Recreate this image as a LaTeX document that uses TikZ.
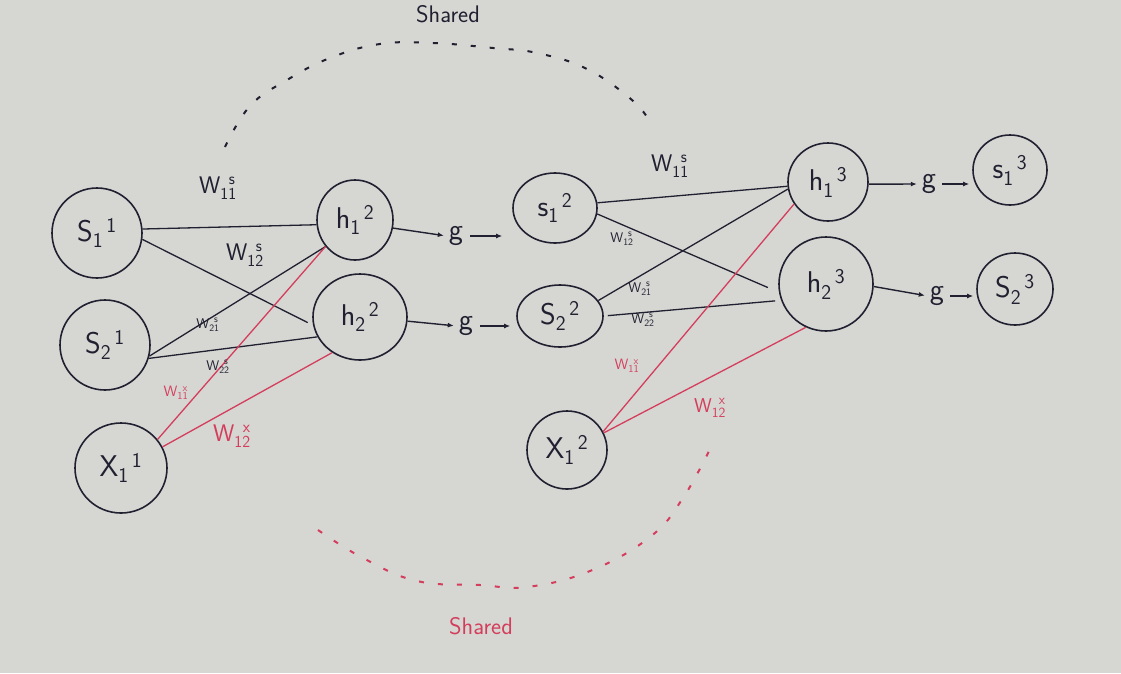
\documentclass[tikz,border=0pt]{standalone}
\usepackage{fontspec}
\usetikzlibrary{shapes.geometric,arrows.meta}
\definecolor{ink}{RGB}{32,32,48}
\definecolor{rink}{RGB}{212,62,92}
\definecolor{board}{RGB}{214,215,211}
\newcommand{\nlab}[3]{$\mathsf{#1_{#2}^{\hspace{0.45em}#3}}$}
\newcommand{\wlab}[2]{$\mathsf{W_{#1}^{\hspace{0.35em}#2}}$}
\begin{document}
\begin{tikzpicture}[x=1pt,y=-1pt,
  neuron/.style={draw=ink,line width=1.6pt,ellipse,inner sep=0pt,text=ink,font=\fontsize{30}{32}\selectfont},
  wire/.style={draw=ink,line width=1.3pt},
  rwire/.style={draw=rink,line width=1.3pt},
  blab/.style={text=ink,font=\fontsize{24}{26}\selectfont,inner sep=0pt},
  slab/.style={text=ink,font=\fontsize{14}{15}\selectfont,inner sep=0pt},
  rblab/.style={text=rink,font=\fontsize{24}{26}\selectfont,inner sep=0pt},
  rslab/.style={text=rink,font=\fontsize{15}{16}\selectfont,inner sep=0pt},
  gnode/.style={text=ink,font=\fontsize{30}{32}\selectfont,inner sep=2pt},
  garrow/.style={draw=ink,line width=1.4pt,-{Latex[length=6pt,width=5pt]}},
  darc/.style={draw=ink,line width=2pt,dash pattern=on 5pt off 14pt},
  rarc/.style={draw=rink,line width=2pt,dash pattern=on 5pt off 14pt},
  shared/.style={inner sep=0pt,font=\sffamily\fontsize{24}{26}\selectfont}
]
\useasboundingbox (0,0) rectangle (1121,673);
\fill[board] (0,0) rectangle (1121,673);

% layer 1
\node[neuron,minimum width=90pt,minimum height=90pt] (s11) at (97,233) {\nlab{S}{1}{1}};
\node[neuron,minimum width=90pt,minimum height=90pt] (s21) at (105,345) {\nlab{S}{2}{1}};
\node[neuron,minimum width=92pt,minimum height=90pt] (x11) at (121,468) {\nlab{X}{1}{1}};
% layer 2
\node[neuron,minimum width=76pt,minimum height=80pt] (h12) at (355,220) {\nlab{h}{1}{2}};
\node[neuron,minimum width=94pt,minimum height=86pt] (h22) at (360,317) {\nlab{h}{2}{2}};
\node[neuron,minimum width=84pt,minimum height=70pt] (s12) at (555,208) {\nlab{s}{1}{2}};
\node[neuron,minimum width=86pt,minimum height=62pt] (s22) at (560,316) {\nlab{S}{2}{2}};
\node[neuron,minimum width=80pt,minimum height=78pt] (x12) at (567,450) {\nlab{X}{1}{2}};
% layer 3
\node[neuron,minimum width=80pt,minimum height=78pt] (h13) at (828,182) {\nlab{h}{1}{3}};
\node[neuron,minimum width=94pt,minimum height=94pt] (h23) at (826,284) {\nlab{h}{2}{3}};
\node[neuron,minimum width=74pt,minimum height=70pt] (s13) at (1010,170) {\nlab{s}{1}{3}};
\node[neuron,minimum width=76pt,minimum height=72pt] (s23) at (1015,289) {\nlab{S}{2}{3}};

% g nodes
\node[gnode] (g1) at (456,236) {$\mathsf{g}$};
\node[gnode] (g2) at (466,326) {$\mathsf{g}$};
\node[gnode] (g3) at (929,184) {$\mathsf{g}$};
\node[gnode] (g4) at (937,296) {$\mathsf{g}$};
\draw[garrow,shorten >=3pt] (h12.-12) -- (g1.west);
\draw[garrow,shorten <=5pt,shorten >=10pt] (g1.east) -- (g1.east -| s12.west);
\draw[garrow,shorten >=3pt] (h22.-5) -- (g2.west);
\draw[garrow,shorten <=5pt,shorten >=6pt] (g2.east) -- (g2.east -| s22.west);
\draw[garrow,shorten >=3pt] (h13.-3) -- (g3.west);
\draw[garrow,shorten <=4pt,shorten >=3pt] (g3.east) -- (g3.east -| s13.west);
\draw[garrow,shorten >=3pt] (h23.-3) -- (g4.west);
\draw[garrow,shorten <=4pt,shorten >=3pt] (g4.east) -- (g4.east -| s23.west);

% left weights
\draw[wire] (s11.5) -- (h12.187);
\draw[wire,shorten >=6pt] (s11.-8) -- (h22.190);
\draw[wire] (s21.-14) -- (h12.222);
\draw[wire] (s21.-17) -- (h22.205);
\draw[rwire] (x11.38) -- (h12.222);
\draw[rwire] (x11.27) -- (h22.232);
% right weights
\draw[wire] (s12.7) -- (h13.186);
\draw[wire,shorten >=12pt] (s12.-8) -- (h23.190);
\draw[wire] (s22.22) -- (h13.190);
\draw[wire,shorten <=4pt,shorten >=6pt] (s22.0) -- (h23.200);
\draw[rwire] (x12.27) -- (h13.213);
\draw[rwire] (x12.25) -- (h23.245);

% weight labels
\node[blab] (w11a) at (218,188) {\wlab{11}{s}};
\node[blab] (w12a) at (245,255) {\wlab{12}{s}};
\node[slab] (w21a) at (208,325) {\wlab{21}{s}};
\node[slab] (w22a) at (218,367) {\wlab{22}{s}};
\node[rslab] (x11a) at (176,393) {\wlab{11}{x}};
\node[rblab] (x12a) at (232,436) {\wlab{12}{x}};
\node[blab] (w11b) at (670,166) {\wlab{11}{s}};
\node[slab] (w12b) at (622,239) {\wlab{12}{s}};
\node[slab] (w21b) at (640,289) {\wlab{21}{s}};
\node[slab] (w22b) at (643,320) {\wlab{22}{s}};
\node[rslab] (x11b) at (627,366) {\wlab{11}{x}};
\node[rslab,font=\fontsize{20}{22}\selectfont] (x12b) at (710,408) {\wlab{12}{x}};

% shared arcs
\draw[darc] plot[smooth,tension=0.7] coordinates {(225,147) (250,106) (287,80) (330,58) (380,44) (433,43) (493,48) (537,53) (587,69) (632,100) (650,122)};
\draw[rarc] plot[smooth,tension=0.7] coordinates {(318,530) (363,558) (417,581) (480,585) (527,587) (590,571) (650,537) (683,498) (712,445)};
\node[shared,text=ink] (sh1) at (448,14) {Shared};
\node[shared,text=rink] (sh2) at (481,626) {Shared};
\end{tikzpicture}
\end{document}
